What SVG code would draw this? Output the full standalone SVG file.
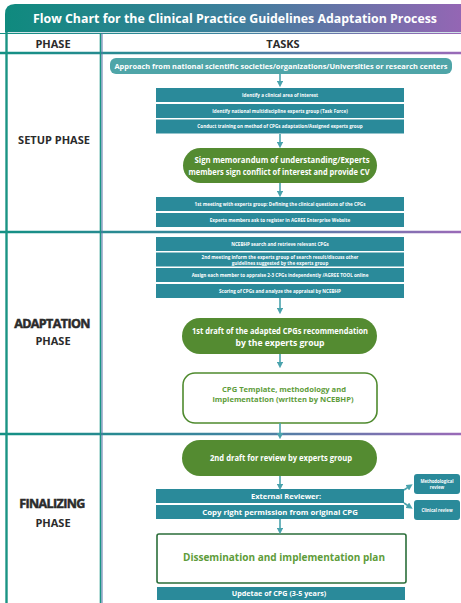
<svg xmlns="http://www.w3.org/2000/svg" width="461" height="603" viewBox="0 0 461 603">
<defs>
<linearGradient id="hg" x1="0" y1="0" x2="1" y2="0">
<stop offset="0" stop-color="#0f8a7e"/><stop offset="0.5" stop-color="#3d7f9c"/><stop offset="1" stop-color="#9466b4"/>
</linearGradient>
<linearGradient id="lg" x1="0" y1="0" x2="461" y2="0" gradientUnits="userSpaceOnUse">
<stop offset="0" stop-color="#139084"/><stop offset="0.5" stop-color="#3f84a0"/><stop offset="1" stop-color="#9a6ab8"/>
</linearGradient>
<marker id="ah" viewBox="0 0 10 10" refX="5" refY="5" markerWidth="4" markerHeight="4" orient="auto">
<path d="M0,0 L10,5 L0,10 z" fill="#4aa3ad"/>
</marker>
</defs>
<style>
.tb{fill:#2a8a9a}
.st{font-family:"Open Sans","Liberation Sans",sans-serif;fill:#fff;font-weight:bold;text-anchor:middle}
.s{font-size:4.6px}
.gp{fill:#548b31}
.gt{font-family:"Open Sans","Liberation Sans",sans-serif;fill:#fff;font-weight:bold;text-anchor:middle;font-size:8.6px}
.gg{font-family:"Open Sans","Liberation Sans",sans-serif;fill:#5e9c3a;font-weight:bold;text-anchor:middle}
.ph{font-family:"Open Sans","Liberation Sans",sans-serif;fill:#2b2b2b;font-weight:bold;text-anchor:middle}
.con line,.con path{stroke:#4aa3ad;stroke-width:1.6;fill:none;marker-end:url(#ah)}
</style>
<rect width="461" height="603" fill="#fff"/>
<g id="header">
<path d="M5,32 L5,14 Q5,4 15,4 L461,4 L461,32 Z" fill="url(#hg)"/>
<text x="235" y="23" font-family="'Open Sans','Liberation Sans',sans-serif" font-size="12.5" font-weight="bold" fill="#fff" text-anchor="middle" textLength="404" lengthAdjust="spacingAndGlyphs">Flow Chart for the Clinical Practice Guidelines Adaptation Process</text>
<rect x="5" y="32" width="456" height="1" fill="#cfe3e6"/>
<text x="53" y="48" class="ph" font-size="11">PHASE</text>
<text x="283" y="48" class="ph" font-size="11">TASKS</text>
</g>
<g id="grid">
<line x1="0" y1="33.5" x2="461" y2="33.5" stroke="url(#lg)" stroke-width="1.2"/>
<line x1="0" y1="53" x2="461" y2="53" stroke="url(#lg)" stroke-width="2.4"/>
<line x1="0" y1="232" x2="461" y2="232" stroke="url(#lg)" stroke-width="2.4"/>
<line x1="0" y1="434" x2="461" y2="434" stroke="url(#lg)" stroke-width="2.4"/>
<line x1="6.5" y1="32" x2="6.5" y2="603" stroke="#1a9484" stroke-width="2.4"/>
<line x1="100.5" y1="33" x2="100.5" y2="603" stroke="#1a9484" stroke-width="1.6"/>
<line x1="102" y1="33" x2="102" y2="603" stroke="#5b72a8" stroke-width="1"/>
</g>
<g id="phases">
<text x="54" y="144" class="ph" font-size="11">SETUP PHASE</text>
<text x="52" y="328" class="ph" font-size="12.5" stroke="#2b2b2b" stroke-width="0.5" letter-spacing="-0.6">ADAPTATION</text>
<text x="53" y="345" class="ph" font-size="11">PHASE</text>
<text x="52" y="508" class="ph" font-size="12.5" stroke="#2b2b2b" stroke-width="0.5" letter-spacing="-0.6">FINALIZING</text>
<text x="53" y="527" class="ph" font-size="11">PHASE</text>
</g>
<g id="approach">
<rect x="110" y="58" width="342" height="16" rx="6" fill="#4fa5a8"/>
<text x="281" y="68.5" class="st" font-size="7.2" textLength="333" lengthAdjust="spacingAndGlyphs">Approach from national scientific societies/organizations/Universities or research centers</text>
</g>
<g id="s1"><rect x="156" y="88" width="248" height="14" class="tb"/><text x="280" y="96.5" class="st s">Identify a clinical area of interest</text></g>
<g id="s2"><rect x="156" y="104" width="248" height="14" class="tb"/><text x="280" y="112.5" class="st s">Identify national multidiscipline experts group (Task Force)</text></g>
<g id="s3"><rect x="156" y="119.5" width="248" height="14" class="tb"/><text x="280" y="128" class="st s">Conduct training on method of CPGs adaptation/Assigned experts group</text></g>
<g id="sign">
<rect x="183" y="148" width="194" height="35" rx="17.5" class="gp"/>
<text x="282" y="163" class="gt" textLength="175" lengthAdjust="spacingAndGlyphs">Sign memorandum of understanding/Experts</text>
<text x="279" y="175" class="gt" textLength="181" lengthAdjust="spacingAndGlyphs">members sign conflict of interest and provide CV</text>
</g>
<g id="s4"><rect x="156" y="197" width="248" height="14" class="tb"/><text x="280" y="205.5" class="st s">1st meeting with experts group: Defining the clinical questions of the CPGs</text></g>
<g id="s5"><rect x="156" y="213" width="248" height="14" class="tb"/><text x="280" y="221.5" class="st s">Experts members ask to register in AGREE Enterprise Website</text></g>
<g id="a1"><rect x="156" y="237" width="248" height="14" class="tb"/><text x="280" y="245.5" class="st s">NCEBHP search and retrieve relevant CPGs</text></g>
<g id="a2"><rect x="156" y="252.5" width="248" height="14" class="tb"/><text x="280" y="258.5" class="st s">2nd meeting inform the experts group of search result/discuss other</text><text x="280" y="264.5" class="st s">guidelines suggested by the experts group</text></g>
<g id="a3"><rect x="156" y="268" width="248" height="14" class="tb"/><text x="280" y="276.5" class="st s">Assign each member to appraise 2-3 CPGs independently /AGREE TOOL online</text></g>
<g id="a4"><rect x="156" y="284" width="248" height="14" class="tb"/><text x="280" y="292.5" class="st s">Scoring of CPGs and analyze the appraisal by NCEBHP</text></g>
<g id="draft1">
<rect x="182" y="318" width="195" height="36" rx="18" class="gp"/>
<text x="280" y="334" class="gt" textLength="176" lengthAdjust="spacingAndGlyphs">1st draft of the adapted CPGs recommendation</text>
<text x="280" y="346" class="gt">by the experts group</text>
</g>
<g id="template">
<rect x="183" y="373" width="194" height="50" rx="12" fill="#fff" stroke="#4f8a2e" stroke-width="1.6"/>
<text x="284" y="392" class="gg" font-size="7.4" textLength="124" lengthAdjust="spacingAndGlyphs">CPG Template, methodology and</text>
<text x="283" y="402" class="gg" font-size="7.4" textLength="141" lengthAdjust="spacingAndGlyphs">implementation (written by NCEBHP)</text>
</g>
<g id="draft2">
<rect x="182" y="440" width="195" height="36" rx="18" class="gp"/>
<text x="281" y="461" class="gt" font-size="8" textLength="142" lengthAdjust="spacingAndGlyphs">2nd draft for review by experts group</text>
</g>
<g id="ext"><rect x="156" y="489" width="248" height="14" class="tb"/><text x="286" y="499" class="st" font-size="7.5">External Reviewer:</text></g>
<g id="copy"><rect x="156" y="505" width="248" height="14" class="tb"/><text x="280" y="515" class="st" font-size="7.8">Copy right permission from original CPG</text></g>
<g id="meth"><rect x="414" y="474" width="46" height="20" rx="3" fill="#2a8a9a"/><text x="437" y="482.5" class="st" font-size="4.3">Methodological</text><text x="437" y="489" class="st" font-size="4.3">review</text></g>
<g id="clin"><rect x="414" y="500" width="46" height="20" rx="3" fill="#2a8a9a"/><text x="437" y="512" class="st" font-size="4.3">Clinical review</text></g>
<g id="dissem">
<rect x="157" y="534" width="249" height="49" rx="2" fill="#fff" stroke="#2b6e3a" stroke-width="1.6"/>
<text x="284" y="561" class="gg" font-size="10.5" textLength="202" lengthAdjust="spacingAndGlyphs">Dissemination and implementation plan</text>
</g>
<g id="update"><rect x="157" y="587" width="248" height="13" class="tb"/><text x="279" y="596" class="st" font-size="7.2">Updetae of CPG (3-5 years)</text></g>
<g class="con" id="connectors">
<line x1="280" y1="74" x2="280" y2="84"/>
<line x1="280" y1="134" x2="280" y2="145"/>
<line x1="280" y1="183" x2="280" y2="194"/>
<line x1="280" y1="298" x2="280" y2="311"/>
<line x1="280" y1="354" x2="280" y2="365"/>
<line x1="280" y1="423" x2="280" y2="436"/>
<line x1="280" y1="476" x2="280" y2="487"/>
<line x1="280" y1="519" x2="280" y2="531"/>
<path d="M404,490 L410,486"/>
<path d="M404,503 L410,507"/>
</g>
</svg>
